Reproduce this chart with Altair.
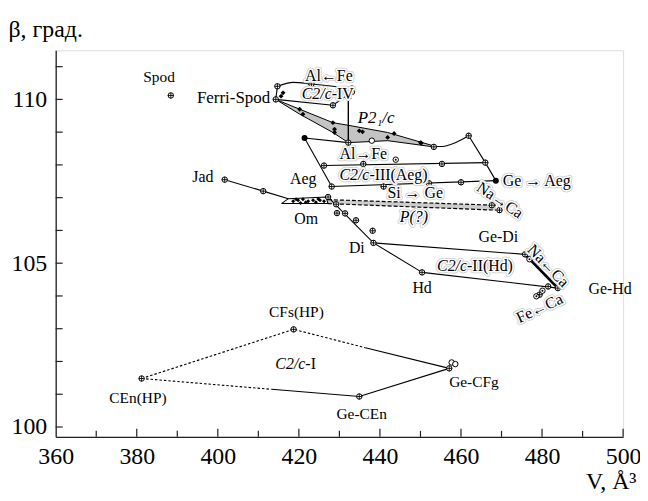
import altair as alt
import pandas as pd

FONT = "Liberation Serif"

# ---------------- data (V in A^3, beta in degrees) ----------------
x_labels = [360, 380, 400, 420, 440, 460, 480, 500]
x_minor = [370, 390, 410, 430, 450, 470, 490]
x_major = [380, 400, 420, 440, 460, 480, 500]
y_labels = [100, 105, 110]
y_ticks = [100, 101, 102, 103, 104, 105, 106, 107, 108, 109, 110, 111]

# crossed-circle points
cross_V = [388.4, 414.3, 414.7, 423.1, 433.1, 428.4, 432.2, 453.3, 461.9,
           426.2, 435.9, 455.3, 466.0, 428.1, 440.9, 452.1, 460.0,
           401.7, 411.2, 427.2, 429.2, 429.4, 431.4, 434.1, 438.2, 438.4,
           450.4, 475.8, 481.5, 479.4, 483.9, 467.6, 469.5,
           418.7, 381.2, 434.9, 457.1]
cross_B = [110.12, 110.00, 110.40, 110.47, 110.33, 109.82, 108.68, 108.55, 108.89,
           107.98, 108.03, 108.03, 108.07, 107.34, 107.34, 107.44, 107.47,
           107.55, 107.20, 107.02, 106.80, 106.53, 106.52, 106.31, 105.99, 105.62,
           104.72, 105.27, 104.29, 104.04, 104.24, 106.77, 106.62,
           102.98, 101.48, 100.93, 101.79]
# dotted circles
dotc_V = [433.1, 443.9, 476.9, 480.1, 478.6]
dotc_B = [110.23, 108.16, 105.12, 104.16, 103.99]
# open circles
open_V = [438.0, 457.7, 458.6]
open_B = [108.74, 101.97, 101.92]
# filled dots
dot_V = [421.4, 468.6]
dot_B = [108.82, 107.52]
# Om cluster dots
om_dot_V = [418.6, 419.3, 419.8, 421.0, 421.7, 422.3, 423.5, 424.2, 425.2, 426.2, 420.4, 424.8]
om_dot_B = [106.89, 106.95, 106.92, 106.95, 106.86, 106.89, 106.92, 106.86, 106.92, 106.89, 106.84, 106.96]
# P2_1/c diamonds
dia_V = [416.1, 415.6, 420.2, 421.0, 428.4, 428.8, 428.8, 434.9, 435.7, 441.9, 443.5, 450.0, 450.2]
dia_B = [110.20, 110.10, 109.70, 109.55, 109.29, 109.09, 108.99, 109.04, 109.01, 108.84, 108.96, 108.68, 108.67]

# grey P2_1/c field
p21_V = [414.3, 420.2, 428.4, 432.2, 441.9, 453.3]
p21_top = [110.00, 109.70, 109.29, 109.21, 108.99, 108.58]
p21_bot = [110.00, 109.55, 108.99, 108.68, 108.74, 108.55]

# P(?) band
pq_V = [427.2, 468.6]
pq_top = [106.94, 106.77]
pq_bot = [106.82, 106.62]

# solid polylines
solid_lines = {
    "jad": ([401.7, 411.2, 417.4], [107.55, 107.20, 106.97]),
    "om": ([415.7, 417.4, 426.7, 427.2, 415.7], [106.82, 106.97, 107.02, 106.82, 106.82]),
    "di": ([427.2, 438.4, 450.4], [107.02, 105.62, 104.72]),
    "hd": ([450.4, 483.9], [104.72, 104.24]),
    "gedi": ([438.4, 475.8], [105.62, 105.27]),
    "aeg_left": ([421.4, 428.1], [108.82, 107.34]),
    "aeg_bot": ([428.1, 468.6], [107.34, 107.52]),
    "aeg_mid": ([426.2, 466.0], [107.98, 108.07]),
    "aeg_right": ([461.9, 466.0, 468.6], [108.89, 108.07, 107.52]),
    "aeg_top": ([421.4, 432.2], [108.82, 108.68]),
    "iv_low": ([414.3, 428.4, 433.1, 433.1], [110.00, 109.82, 110.23, 110.33]),
    "iv_left": ([414.3, 414.7], [110.00, 110.40]),
    "cI_a": ([436.4, 457.1], [102.42, 101.79]),
    "cI_b": ([413.3, 434.9, 457.1], [101.15, 100.93, 101.79]),
}
thick_lines = {"na_ca": ([475.8, 483.9], [105.27, 104.24])}
dotted_lines = {
    "cI_c": ([381.2, 418.7, 436.4], [101.48, 102.98, 102.42]),
    "cI_d": ([381.2, 413.3], [101.48, 101.15]),
}
curve_lines = {
    "iv_top": ([414.7, 418.6, 423.1, 433.1], [110.40, 110.52, 110.47, 110.33]),
    "p21_tail": ([453.3, 454.9, 458.6, 461.9], [108.58, 108.56, 108.68, 108.89]),
}
# P2_1/c arrow
arrow_V = [432.2]
arrow_B0 = [108.68]
arrow_B1 = [110.05]
arrow_tip = [110.10]

# labels
plain_lbl = {"Jad": (396.3, 107.62), "Aeg": (421.1, 107.58), "Om": (421.8, 106.34),
             "Di": (434.3, 105.47), "Hd": (450.4, 104.24), "Ge-Di": (469.2, 105.81),
             "Ge-Hd": (496.8, 104.20)}
small_lbl = {"Spod": (385.5, 110.68), "CFs(HP)": (419.4, 103.50), "CEn(HP)": (380.3, 100.88),
             "Ge-CEn": (435.5, 100.40), "Ge-CFg": (463.2, 101.36)}
ferri_lbl = {"Ferri-Spod": (412.9, 110.05)}
halo_lbl = {"Al\u2190Fe": (427.4, 110.71), "Al\u2192Fe": (435.9, 108.33),
            "Si \u2192 Ge": (448.7, 107.14), "Ge \u2192 Aeg": (478.7, 107.52)}
halo_rot = [("Na\u2192Ca", 469.6, 106.92, 34), ("Na\u2190Ca", 481.5, 104.92, 46),
            ("Fe\u2190Ca", 479.4, 103.62, 335)]
group_lbl = [("C2/c", "-IV", 428.1, 110.15), ("C2/c", "-III(Aeg)", 437.4, 107.68),
             ("C2/c", "-II(Hd)", 461.5, 104.92)]
group_plain = [("C2/c", "-I", 421.6, 101.92)]
p21_lbl = {"P2\u2081/c": (434.5, 109.44)}
pq_lbl = {"P(?)": (448.4, 106.41)}

# ---------------- helpers ----------------
xs = alt.Scale(domain=[360, 500], nice=False, zero=False)
ys = alt.Scale(domain=[99.7, 111.5], nice=False, zero=False)

x_axis = alt.Axis(values=x_labels, ticks=False, tickSize=0, grid=False, labelFont=FONT,
                  labelFontSize=24, labelColor="black", labelPadding=8, labelFlush=False,
                  labelBound=False, labelOverlap=False,
                  domainColor="#222", domainWidth=1.3, title="V, \u00c5\u00b3", titleFont=FONT,
                  titleFontSize=24, titleFontWeight="normal", titleColor="black",
                  titleAlign="right", titleX=584, titleY=52, titleBaseline="alphabetic")
y_axis = alt.Axis(values=y_labels, ticks=False, tickSize=0, grid=False, labelFont=FONT,
                  labelFontSize=24, labelColor="black", labelPadding=9, labelFlush=False,
                  domainColor="#222", domainWidth=1.3, title="\u03b2, \u0433\u0440\u0430\u0434.",
                  titleFont=FONT, titleFontSize=24, titleFontWeight="normal", titleColor="black",
                  titleAngle=0, titleAlign="left", titleX=-48, titleY=-14,
                  titleBaseline="alphabetic")


def X(f="V"):
    return alt.X(f"{f}:Q", scale=xs, axis=x_axis)


def Y(f="B"):
    return alt.Y(f"{f}:Q", scale=ys, axis=y_axis)


def pts(vs, bs):
    return pd.DataFrame({"V": vs, "B": bs})


def segs(d):
    rows = []
    for k, (vs, bs) in d.items():
        for i, (v, b) in enumerate(zip(vs, bs)):
            rows.append({"seg": k, "i": i, "V": v, "B": b})
    return pd.DataFrame(rows)


def lbl_df(d):
    return pd.DataFrame([{"t": k, "V": v, "B": b} for k, (v, b) in d.items()])


def text_layers(df, size, italic=False, align="center", halo=False, angle=False):
    enc = dict(x=X(), y=Y(), text="t:N")
    if angle:
        enc["angle"] = alt.Angle("a:Q", scale=None)
    style = dict(font=FONT, fontSize=size, align=align, baseline="middle",
                 fontStyle="italic" if italic else "normal")
    base = alt.Chart(df)
    out = []
    if halo:
        out.append(base.mark_text(color="white", stroke="#c8c8c8", strokeWidth=4.5,
                                  strokeJoin="round", **style).encode(**enc))
        out.append(base.mark_text(color="white", stroke="white", strokeWidth=3,
                                  strokeJoin="round", **style).encode(**enc))
    out.append(base.mark_text(color="black", **style).encode(**enc))
    return out


layers = []

# axis tick marks (inward)
layers.append(alt.Chart(pd.DataFrame({"V": x_minor})).mark_rule(color="#222", strokeWidth=1.2)
              .encode(x=X(), y=alt.value(389), y2=alt.value(383)))
layers.append(alt.Chart(pd.DataFrame({"V": x_major})).mark_rule(color="#222", strokeWidth=1.2)
              .encode(x=X(), y=alt.value(389), y2=alt.value(381)))
layers.append(alt.Chart(pd.DataFrame({"B": y_ticks})).mark_rule(color="#222", strokeWidth=1.2)
              .encode(y=Y(), x=alt.value(0), x2=alt.value(7)))

# shaded fields
layers.append(alt.Chart(pd.DataFrame({"V": p21_V, "B": p21_top, "B2": p21_bot}))
              .mark_area(color="#c4c4c4", opacity=1).encode(x=X(), y=Y(), y2="B2:Q"))
layers.append(alt.Chart(pd.DataFrame({"V": p21_V, "B": p21_top}))
              .mark_line(color="black", strokeWidth=1).encode(x=X(), y=Y()))
layers.append(alt.Chart(pd.DataFrame({"V": p21_V, "B": p21_bot}))
              .mark_line(color="black", strokeWidth=1).encode(x=X(), y=Y()))
layers.append(alt.Chart(pd.DataFrame({"V": pq_V, "B": pq_top, "B2": pq_bot}))
              .mark_area(color="#cdcdcd", opacity=1).encode(x=X(), y=Y(), y2="B2:Q"))
layers.append(alt.Chart(pd.DataFrame({"V": pq_V, "B": pq_top}))
              .mark_line(color="black", strokeWidth=1.2, strokeDash=[4, 2]).encode(x=X(), y=Y()))
layers.append(alt.Chart(pd.DataFrame({"V": pq_V, "B": pq_bot}))
              .mark_line(color="black", strokeWidth=1.2, strokeDash=[4, 2]).encode(x=X(), y=Y()))

# lines
layers.append(alt.Chart(segs(solid_lines)).mark_line(color="black", strokeWidth=1.1)
              .encode(x=X(), y=Y(), detail="seg:N", order="i:Q"))
layers.append(alt.Chart(segs(thick_lines)).mark_line(color="black", strokeWidth=2.8)
              .encode(x=X(), y=Y(), detail="seg:N", order="i:Q"))
layers.append(alt.Chart(segs(dotted_lines)).mark_line(color="black", strokeWidth=1.1, strokeDash=[2.5, 2])
              .encode(x=X(), y=Y(), detail="seg:N", order="i:Q"))
layers.append(alt.Chart(segs(curve_lines)).mark_line(color="black", strokeWidth=1.1, interpolate="monotone")
              .encode(x=X(), y=Y(), detail="seg:N", order="i:Q"))

# P2_1/c arrow
layers.append(alt.Chart(pd.DataFrame({"V": arrow_V, "B": arrow_B0, "B2": arrow_B1}))
              .mark_rule(color="black", strokeWidth=1.4).encode(x=X(), y=Y(), y2="B2:Q"))
layers.append(alt.Chart(pd.DataFrame({"V": arrow_V, "B": arrow_tip}))
              .mark_point(shape="triangle-up", filled=True, color="black", size=45, opacity=1)
              .encode(x=X(), y=Y()))

# markers
layers.append(alt.Chart(pts(dia_V, dia_B)).mark_point(shape="diamond", filled=True, color="black", size=24, opacity=1)
              .encode(x=X(), y=Y()))
layers.append(alt.Chart(pts(om_dot_V, om_dot_B)).mark_point(shape="diamond", filled=True, color="black", size=16, opacity=1)
              .encode(x=X(), y=Y()))
for vs, bs in [(cross_V, cross_B), (dotc_V, dotc_B), (open_V, open_B)]:
    layers.append(alt.Chart(pts(vs, bs)).mark_circle(fill="white", stroke="black", strokeWidth=1, size=30, opacity=1)
                  .encode(x=X(), y=Y()))
layers.append(alt.Chart(pts(cross_V, cross_B)).mark_point(shape="M-1,0L1,0M0,-1L0,1", filled=False, color="black",
                                                          strokeWidth=0.9, size=34, opacity=1)
              .encode(x=X(), y=Y()))
layers.append(alt.Chart(pts(dotc_V, dotc_B)).mark_circle(color="black", size=4, opacity=1)
              .encode(x=X(), y=Y()))
layers.append(alt.Chart(pts(dot_V, dot_B)).mark_circle(color="black", size=36, opacity=1)
              .encode(x=X(), y=Y()))

# labels
layers += text_layers(lbl_df(plain_lbl), 16)
layers += text_layers(lbl_df(small_lbl), 15.5)
layers += text_layers(lbl_df(ferri_lbl), 17, align="right")
layers += text_layers(lbl_df(halo_lbl), 16, halo=True)
layers += text_layers(pd.DataFrame([{"t": t, "V": v, "B": b, "a": a} for t, v, b, a in halo_rot]),
                      16, halo=True, angle=True)
layers += text_layers(pd.DataFrame([{"t": a, "V": v, "B": b} for a, _, v, b in group_lbl]),
                      16, italic=True, align="right", halo=True)
layers += text_layers(pd.DataFrame([{"t": c, "V": v, "B": b} for _, c, v, b in group_lbl]),
                      16, align="left", halo=True)
layers += text_layers(pd.DataFrame([{"t": a, "V": v, "B": b} for a, _, v, b in group_plain]),
                      16, italic=True, align="right")
layers += text_layers(pd.DataFrame([{"t": c, "V": v, "B": b} for _, c, v, b in group_plain]),
                      16, align="left")
layers += text_layers(lbl_df(p21_lbl), 17, italic=True, align="left")
layers += text_layers(lbl_df(pq_lbl), 16, italic=True, halo=True)

chart = alt.layer(*layers).properties(
    width=571, height=389,
    padding={"left": 48, "top": 41, "right": 17, "bottom": 55},
    autosize=alt.AutoSizeParams(type="none"),
).configure_view(stroke=None).configure(background="white")

chart.save("out.html", embed_options={"renderer": "svg", "actions": False})
